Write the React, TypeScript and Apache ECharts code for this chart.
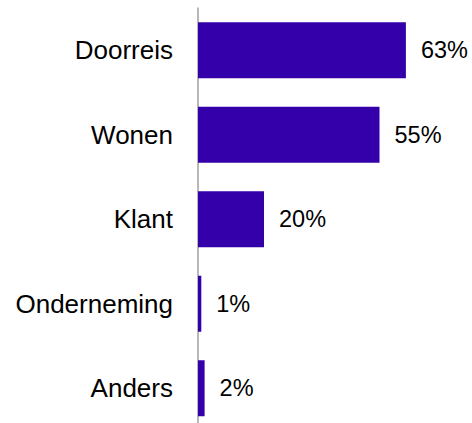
import React, { useEffect, useRef } from "react";
import * as echarts from "echarts";

const categories = ["Doorreis", "Wonen", "Klant", "Onderneming", "Anders"];
const values = [63, 55, 20, 1, 2];

export default function App() {
  const ref = useRef<HTMLDivElement>(null);
  useEffect(() => {
    document.body.style.margin = "0";
    const chart = echarts.init(ref.current!, null, { renderer: "svg" });
    chart.setOption({
      animation: false,
      grid: {
        left: 198,
        top: 8,
        width: 330,
        height: 422.5,
        containLabel: false,
        outerBoundsMode: "none",
      },
      xAxis: {
        type: "value",
        min: 0,
        max: 100,
        show: false,
      },
      yAxis: {
        type: "category",
        data: categories,
        inverse: true,
        axisLine: { show: true, lineStyle: { color: "#a0a0a0", width: 1.5 } },
        axisTick: { show: false },
        axisLabel: {
          margin: 25,
          fontSize: 26,
          color: "#000",
          fontFamily: "Liberation Sans, Arial, sans-serif",
        },
      },
      series: [
        {
          type: "bar",
          data: values,
          barWidth: 56,
          itemStyle: { color: "#3300aa" },
          label: {
            show: true,
            position: "right",
            distance: 15,
            formatter: "{c}%",
            fontSize: 23.5,
            color: "#000",
            fontFamily: "Liberation Sans, Arial, sans-serif",
          },
        },
      ],
    });
    return () => chart.dispose();
  }, []);
  return <div ref={ref} style={{ width: 472, height: 423 }} />;
}
